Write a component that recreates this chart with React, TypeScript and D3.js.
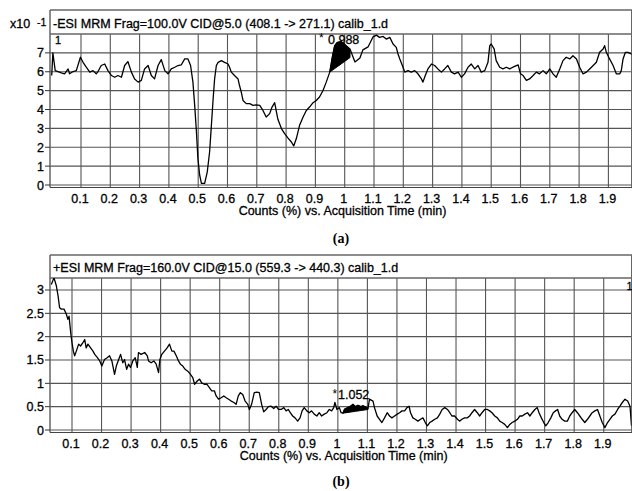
import React from 'react';
import * as d3 from 'd3';

const xTickValues = [0.1, 0.2, 0.3, 0.4, 0.5, 0.6, 0.7, 0.8, 0.9, 1.0, 1.1, 1.2, 1.3, 1.4, 1.5, 1.6, 1.7, 1.8, 1.9];
const xTickLabels = ['0.1', '0.2', '0.3', '0.4', '0.5', '0.6', '0.7', '0.8', '0.9', '1', '1.1', '1.2', '1.3', '1.4', '1.5', '1.6', '1.7', '1.8', '1.9'];
const yTicksA = [0, 1, 2, 3, 4, 5, 6, 7];
const yTickLabelsA = ['0', '1', '2', '3', '4', '5', '6', '7'];
const yTicksB = [0, 0.5, 1, 1.5, 2, 2.5, 3];
const yTickLabelsB = ['0', '0.5', '1', '1.5', '2', '2.5', '3'];

const titleA = '-ESI MRM Frag=100.0V CID@5.0 (408.1 -> 271.1) calib_1.d';
const titleB = '+ESI MRM Frag=160.0V CID@15.0 (559.3 -> 440.3) calib_1.d';
const xAxisTitle = 'Counts (%) vs. Acquisition Time (min)';
const exponentA = '-1';

// Panel (a): time (min) and counts (x10^-1 %)
const timesA = [
  0.000, 0.004, 0.012, 0.0215, 0.033, 0.044, 0.056, 0.061, 0.073, 0.084, 0.098, 0.107, 0.118, 0.130, 0.141,
  0.152, 0.158, 0.169, 0.181, 0.192, 0.204, 0.215, 0.226, 0.238, 0.249, 0.260, 0.272, 0.283, 0.295, 0.306,
  0.317, 0.329, 0.340, 0.351, 0.363, 0.374, 0.386, 0.397, 0.408, 0.420, 0.431, 0.442, 0.454, 0.465, 0.474,
  0.482, 0.488, 0.494, 0.499, 0.505, 0.511, 0.522, 0.531, 0.539, 0.545, 0.551, 0.556, 0.562, 0.568, 0.579,
  0.590, 0.602, 0.607, 0.613, 0.624, 0.636, 0.641, 0.647, 0.653, 0.664, 0.676, 0.687, 0.698, 0.710, 0.721,
  0.732, 0.744, 0.752, 0.761, 0.767, 0.772, 0.784, 0.795, 0.806, 0.818, 0.826, 0.835, 0.846, 0.858, 0.869,
  0.880, 0.892, 0.903, 0.914, 0.926, 0.937, 0.949, 0.958, 0.966, 0.975, 0.988, 1.000, 1.018, 1.035, 1.052,
  1.062, 1.080, 1.097, 1.108, 1.119, 1.131, 1.142, 1.154, 1.165, 1.176, 1.182, 1.188, 1.199, 1.205, 1.216,
  1.227, 1.239, 1.250, 1.262, 1.267, 1.275, 1.284, 1.296, 1.307, 1.318, 1.330, 1.341, 1.352, 1.364, 1.375,
  1.387, 1.398, 1.409, 1.421, 1.432, 1.444, 1.455, 1.466, 1.478, 1.489, 1.495, 1.500, 1.510, 1.517, 1.529,
  1.540, 1.552, 1.563, 1.574, 1.592, 1.600, 1.609, 1.620, 1.631, 1.643, 1.654, 1.665, 1.677, 1.688, 1.700,
  1.711, 1.722, 1.734, 1.745, 1.756, 1.768, 1.779, 1.791, 1.802, 1.813, 1.825, 1.836, 1.848, 1.859, 1.870,
  1.882, 1.887, 1.893, 1.904, 1.916, 1.927, 1.939, 1.944, 1.950, 1.958, 1.967, 1.978, 1.990,
];
const countsA = [
  5.80, 7.00, 6.06, 6.01, 5.94, 5.89, 6.15, 5.89, 6.01, 6.06, 6.77, 6.50, 6.24, 5.98, 6.06,
  5.89, 6.01, 6.33, 6.41, 6.06, 5.80, 5.71, 5.80, 5.71, 6.33, 6.54, 5.98, 5.62, 5.45, 5.54,
  6.15, 6.33, 5.80, 5.62, 6.33, 6.64, 6.06, 5.89, 6.15, 6.24, 6.33, 6.36, 6.68, 6.68, 6.33,
  5.45, 4.22, 2.81, 1.41, 0.53, 0.09, 0.09, 0.70, 1.76, 3.16, 4.57, 5.62, 6.33, 6.50, 6.59,
  6.50, 6.41, 6.24, 5.98, 5.80, 5.62, 5.27, 4.92, 4.48, 4.31, 4.31, 4.22, 4.25, 4.22, 3.95,
  3.60, 3.78, 4.13, 4.36, 3.87, 3.48, 2.99, 2.72, 2.50, 2.28, 2.07, 2.46, 3.16, 3.60, 3.95,
  4.13, 4.36, 4.48, 4.66, 5.01, 5.45, 5.98, 6.80, 7.40, 7.55, 7.60, 7.45, 7.20, 6.52, 6.73,
  7.16, 7.32, 7.85, 7.94, 7.82, 7.87, 7.73, 7.82, 7.47, 7.29, 6.94, 6.68, 6.24, 5.98, 6.06,
  5.98, 6.06, 5.89, 5.62, 5.45, 5.80, 6.15, 6.41, 6.33, 6.15, 5.98, 6.15, 6.33, 5.98, 5.89,
  5.98, 5.71, 5.89, 6.24, 6.41, 6.15, 6.33, 5.98, 6.06, 6.50, 7.38, 7.47, 7.21, 6.59, 6.24,
  6.15, 6.24, 6.15, 6.24, 6.36, 5.89, 5.80, 5.54, 5.62, 5.80, 5.98, 5.89, 6.06, 5.89, 6.15,
  5.89, 5.71, 6.15, 6.59, 6.77, 6.68, 6.85, 6.68, 6.24, 5.89, 5.98, 6.15, 6.33, 6.50, 7.03,
  7.21, 7.38, 7.03, 6.68, 6.33, 5.89, 5.89, 6.06, 6.68, 7.03, 7.03, 6.94, 6.90,
];
const peakA = { label: '0.988', start: 0.949, end: 1.018, baseStart: 5.98, baseEnd: 6.75 };

// Panel (b): time (min) and counts (%)
const timesB = [
  0.030, 0.039, 0.047, 0.053, 0.058, 0.064, 0.073, 0.081, 0.086, 0.090, 0.0955, 0.100, 0.1045, 0.109, 0.1146,
  0.1225, 0.129, 0.137, 0.143, 0.148, 0.154, 0.163, 0.171, 0.177, 0.186, 0.194, 0.201, 0.210, 0.219, 0.227,
  0.235, 0.244, 0.250, 0.258, 0.2645, 0.272, 0.278, 0.285, 0.2915, 0.298, 0.306, 0.314, 0.321, 0.325, 0.334,
  0.346, 0.355, 0.359, 0.368, 0.377, 0.385, 0.393, 0.3975, 0.404, 0.413, 0.422, 0.430, 0.438, 0.445, 0.453,
  0.4605, 0.467, 0.475, 0.483, 0.492, 0.501, 0.509, 0.515, 0.524, 0.532, 0.539, 0.548, 0.557, 0.565, 0.573,
  0.582, 0.588, 0.596, 0.605, 0.614, 0.622, 0.630, 0.639, 0.648, 0.6555, 0.663, 0.670, 0.678, 0.686, 0.695,
  0.7005, 0.708, 0.717, 0.726, 0.734, 0.742, 0.749, 0.757, 0.765, 0.774, 0.783, 0.791, 0.799, 0.808, 0.817,
  0.825, 0.832, 0.839, 0.847, 0.855, 0.864, 0.872, 0.879, 0.886, 0.895, 0.903, 0.911, 0.920, 0.929, 0.937,
  0.945, 0.954, 0.963, 0.971, 0.979, 0.986, 0.990, 0.997, 1.005, 1.011, 1.017, 1.023, 1.034, 1.045, 1.051,
  1.060, 1.068, 1.078, 1.085, 1.095, 1.102, 1.107, 1.119, 1.124, 1.133, 1.141, 1.149, 1.158, 1.167, 1.175,
  1.183, 1.192, 1.201, 1.209, 1.217, 1.226, 1.234, 1.241, 1.246, 1.254, 1.262, 1.271, 1.280, 1.288, 1.296,
  1.303, 1.311, 1.319, 1.328, 1.337, 1.345, 1.353, 1.362, 1.371, 1.379, 1.386, 1.395, 1.405, 1.412, 1.420,
  1.429, 1.438, 1.446, 1.454, 1.463, 1.472, 1.480, 1.488, 1.497, 1.506, 1.514, 1.522, 1.531, 1.540, 1.548,
  1.556, 1.565, 1.574, 1.582, 1.590, 1.599, 1.608, 1.616, 1.624, 1.633, 1.642, 1.650, 1.658, 1.667, 1.675,
  1.681, 1.689, 1.697, 1.704, 1.712, 1.721, 1.729, 1.737, 1.744, 1.751, 1.759, 1.768, 1.777, 1.785, 1.793,
  1.802, 1.811, 1.819, 1.827, 1.836, 1.845, 1.853, 1.861, 1.870, 1.879, 1.887, 1.895, 1.904, 1.913, 1.921,
  1.929, 1.938, 1.947, 1.955, 1.963, 1.972, 1.981, 1.989, 1.994,
];
const countsB = [
  3.12, 3.26, 3.09, 2.87, 2.62, 2.59, 2.59, 2.48, 2.37, 2.44, 2.09, 1.87, 1.69, 1.59, 1.69,
  1.84, 1.80, 1.87, 1.94, 1.76, 1.84, 1.76, 1.69, 1.62, 1.55, 1.48, 1.37, 1.51, 1.55, 1.59,
  1.48, 1.19, 1.37, 1.51, 1.62, 1.44, 1.51, 1.30, 1.41, 1.34, 1.48, 1.55, 1.34, 1.66, 1.62,
  1.66, 1.59, 1.48, 1.44, 1.48, 1.41, 1.23, 1.51, 1.62, 1.69, 1.76, 1.84, 1.69, 1.69, 1.59,
  1.48, 1.41, 1.37, 1.30, 1.26, 1.19, 1.12, 0.98, 1.05, 1.09, 1.01, 0.98, 0.98, 0.91, 0.84,
  0.84, 0.73, 0.66, 0.69, 0.73, 0.69, 0.66, 0.62, 0.59, 0.55, 0.73, 0.80, 0.76, 0.62, 0.55,
  0.44, 0.55, 0.80, 0.81, 0.80, 0.55, 0.39, 0.44, 0.50, 0.51, 0.46, 0.51, 0.44, 0.44, 0.48,
  0.41, 0.44, 0.37, 0.30, 0.26, 0.19, 0.26, 0.41, 0.48, 0.41, 0.37, 0.41, 0.34, 0.30, 0.37,
  0.30, 0.34, 0.37, 0.44, 0.41, 0.48, 0.59, 0.44, 0.48, 0.37, 0.36, 0.45, 0.48, 0.52, 0.55,
  0.50, 0.53, 0.50, 0.52, 0.49, 0.46, 0.66, 0.62, 0.48, 0.30, 0.23, 0.16, 0.26, 0.37, 0.30,
  0.26, 0.30, 0.34, 0.37, 0.41, 0.41, 0.48, 0.51, 0.37, 0.26, 0.23, 0.19, 0.23, 0.26, 0.16,
  0.09, 0.16, 0.19, 0.23, 0.26, 0.34, 0.44, 0.48, 0.44, 0.37, 0.30, 0.30, 0.23, 0.19, 0.23,
  0.26, 0.26, 0.30, 0.37, 0.44, 0.37, 0.30, 0.37, 0.44, 0.44, 0.41, 0.37, 0.30, 0.26, 0.19,
  0.16, 0.12, 0.05, 0.12, 0.16, 0.19, 0.23, 0.30, 0.30, 0.34, 0.37, 0.30, 0.37, 0.44, 0.48,
  0.37, 0.26, 0.16, 0.09, 0.16, 0.26, 0.37, 0.41, 0.44, 0.30, 0.23, 0.19, 0.19, 0.30, 0.37,
  0.44, 0.37, 0.30, 0.23, 0.16, 0.23, 0.30, 0.37, 0.41, 0.44, 0.30, 0.16, 0.05, 0.16, 0.23,
  0.30, 0.34, 0.44, 0.51, 0.59, 0.66, 0.62, 0.51, 0.09,
];
const peakB = { label: '1.052', start: 1.017, end: 1.102, baseStart: 0.36, baseEnd: 0.44 };

const FONT = '"Liberation Sans", Arial, Helvetica, sans-serif';
const GRID = '#555';
const TXT = { stroke: '#000', strokeWidth: 0.3 };

type PanelCfg = {
  title: string;
  times: number[];
  counts: number[];
  yTicks: number[];
  yTickLabels: string[];
  yMax: number;
  xR: [number, number];
  frameTop: number;
  headerBottom: number;
  yZero: number;
  peak: { label: string; start: number; end: number; baseStart: number; baseEnd: number };
  labelPos: [number, number];
  starPos: [number, number];
  corner: [number, number];
  axisTitleX: number;
  exponent?: string;
  letter: string;
  letterY: number;
};

function Panel({ c }: { c: PanelCfg }) {
  const left = 50;
  const right = 631.5;
  const x = d3.scaleLinear().domain([0, 2]).range(c.xR);
  const y = d3.scaleLinear().domain([0, c.yMax]).range([c.yZero, c.headerBottom]);
  const bottom = c.yZero + 2.5;
  const pts = c.times.map((t, i) => [t, c.counts[i]] as [number, number]);
  const line = d3.line<[number, number]>().x((d) => x(d[0])).y((d) => y(d[1]));
  const p = c.peak;
  const base = d3.scaleLinear().domain([p.start, p.end]).range([p.baseStart, p.baseEnd]);
  const peakPts = pts.filter((d) => d[0] >= p.start - 1e-9 && d[0] <= p.end + 1e-9);
  const area = d3
    .area<[number, number]>()
    .x((d) => x(d[0]))
    .y0((d) => y(base(d[0])))
    .y1((d) => y(d[1]));
  const clipId = 'clip-' + c.letter.replace(/[()]/g, '');
  return (
    <g fontFamily={FONT} fill="#000">
      <defs>
        <clipPath id={clipId}>
          <rect x={left} y={c.headerBottom} width={right - left} height={bottom - c.headerBottom} />
        </clipPath>
      </defs>
      {c.yTicks.map((v) => (
        <line key={'h' + v} x1={left} x2={right} y1={y(v)} y2={y(v)} stroke={GRID} strokeWidth={1.1} />
      ))}
      {xTickValues.map((v) => (
        <line key={'v' + v} x1={x(v)} x2={x(v)} y1={c.headerBottom} y2={bottom} stroke={GRID} strokeWidth={1.1} />
      ))}
      <line x1={left} x2={632} y1={c.frameTop} y2={c.frameTop} stroke="#666" strokeWidth={1.5} />
      <line x1={left} x2={632} y1={c.headerBottom} y2={c.headerBottom} stroke="#666" strokeWidth={1.5} />
      <line x1={left} x2={left} y1={c.frameTop} y2={bottom} stroke="#666" strokeWidth={1.5} />
      <line x1={right} x2={right} y1={c.frameTop} y2={bottom} stroke="#666" strokeWidth={1} />
      <line x1={left} x2={632} y1={bottom} y2={bottom} stroke="#444" strokeWidth={1.2} />
      {c.yTicks.map((v, i) => (
        <g key={'yt' + v}>
          <line x1={left - 5} x2={left} y1={y(v)} y2={y(v)} stroke="#333" strokeWidth={1} />
          <text x={left - 6} y={y(v)} dy="0.36em" textAnchor="end" fontSize={12.5} {...TXT}>
            {c.yTickLabels[i]}
          </text>
        </g>
      ))}
      {xTickValues.map((v, i) => (
        <text key={'xt' + v} x={x(v) - 1} y={c.yZero + 17.5} textAnchor="middle" fontSize={12.5} {...TXT}>
          {xTickLabels[i]}
        </text>
      ))}
      <text x={c.axisTitleX} y={c.yZero + 30} textAnchor="middle" fontSize={12.5} {...TXT}>
        {xAxisTitle}
      </text>
      <text x={53} y={c.headerBottom - 6.5} fontSize={12.5} {...TXT}>
        {c.title}
      </text>
      {c.exponent && (
        <g>
          <text x={10} y={c.headerBottom - 6.5} fontSize={12.5} {...TXT}>x10</text>
          <text x={37} y={c.headerBottom - 8.5} fontSize={10.5} {...TXT}>{c.exponent}</text>
        </g>
      )}
      <text x={c.corner[0]} y={c.corner[1]} fontSize={11} {...TXT}>1</text>
      <g clipPath={`url(#${clipId})`}>
        <path d={area(peakPts) || ''} fill="#000" stroke="#000" strokeWidth={1} strokeLinejoin="round" />
        <path d={line(pts) || ''} fill="none" stroke="#000" strokeWidth={1.3} strokeLinejoin="round" />
      </g>
      <text x={c.starPos[0]} y={c.starPos[1]} fontSize={12}>*</text>
      <text x={c.labelPos[0]} y={c.labelPos[1]} fontSize={12.5} {...TXT}>{p.label}</text>
      <text
        x={341}
        y={c.letterY}
        textAnchor="middle"
        fontSize={14}
        fontWeight="bold"
        fontFamily='"Liberation Serif", "Times New Roman", serif'
      >
        {c.letter}
      </text>
    </g>
  );
}

export default function App() {
  const cfgA: PanelCfg = {
    title: titleA,
    times: timesA,
    counts: countsA,
    yTicks: yTicksA,
    yTickLabels: yTickLabelsA,
    yMax: 8.0,
    xR: [51.7, 637.7],
    frameTop: 10,
    headerBottom: 34,
    yZero: 185,
    peak: peakA,
    labelPos: [328, 43.5],
    starPos: [319, 42],
    corner: [55, 43.5],
    axisTitleX: 342.5,
    exponent: exponentA,
    letter: '(a)',
    letterY: 242.5,
  };
  const cfgB: PanelCfg = {
    title: titleB,
    times: timesB,
    counts: countsB,
    yTicks: yTicksB,
    yTickLabels: yTickLabelsB,
    yMax: 3.257,
    xR: [42.46, 633.26],
    frameTop: 255,
    headerBottom: 278,
    yZero: 430,
    peak: peakB,
    labelPos: [338, 399],
    starPos: [332.5, 397.5],
    corner: [626.5, 290],
    axisTitleX: 343.7,
    letter: '(b)',
    letterY: 485.5,
  };
  return (
    <svg
      width={632}
      height={491}
      viewBox="0 0 632 491"
      style={{ position: 'absolute', left: 0, top: 0, background: '#fff' }}
    >
      <rect x={0} y={0} width={632} height={491} fill="#fff" />
      <Panel c={cfgA} />
      <Panel c={cfgB} />
    </svg>
  );
}
